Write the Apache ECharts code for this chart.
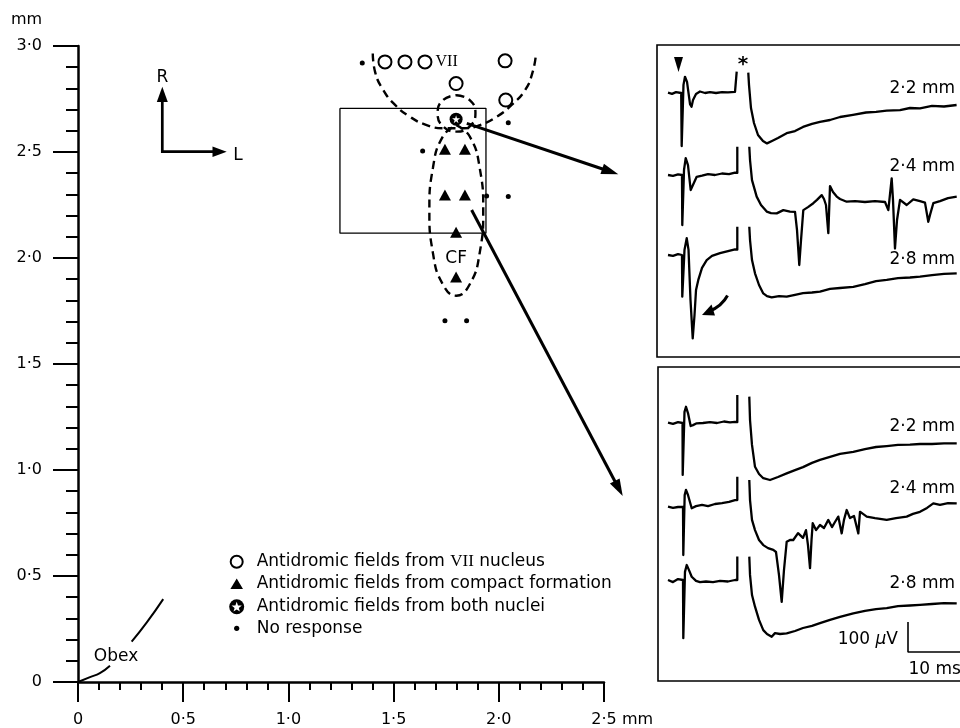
<!DOCTYPE html>
<html><head><meta charset="utf-8">
<script src="https://cdn.jsdelivr.net/npm/echarts@6/dist/echarts.min.js"></script>
<style>html,body{margin:0;padding:0;background:#fff}#c{width:960px;height:728px}</style>
</head><body><div id="c"></div>
<script>
// ---------- main map (mm) ----------
const xTicks = [0, 0.5, 1.0, 1.5, 2.0, 2.5];
const yTicks = [0, 0.5, 1.0, 1.5, 2.0, 2.5, 3.0];
const viiFields = [[1.459,2.925],[1.554,2.925],[1.649,2.925],[2.030,2.930],[1.797,2.823],[2.033,2.745]];
const cfFields = [[1.744,2.513],[1.839,2.513],[1.744,2.297],[1.839,2.297],[1.797,2.122],[1.797,1.910]];
const bothFields = [[1.797,2.655]];
const noResponse = [[1.351,2.920],[2.045,2.638],[1.638,2.505],[1.942,2.293],[2.045,2.290],[1.744,1.704],[1.847,1.704]];
const viiBoundary = [[1.401,2.965],[1.412,2.878],[1.451,2.792],[1.507,2.722],[1.578,2.666],[1.657,2.627],[1.736,2.612],[1.831,2.612],[1.911,2.627],[1.990,2.666],[2.061,2.722],[2.125,2.792],[2.161,2.878],[2.177,2.965]];
const bothBoundary = [[1.799,2.768],[1.862,2.745],[1.889,2.684],[1.862,2.621],[1.799,2.596],[1.735,2.621],[1.709,2.684],[1.735,2.745],[1.799,2.768]];
const cfBoundary = [[1.798,2.627],[1.862,2.573],[1.909,2.426],[1.926,2.225],[1.909,2.023],[1.862,1.876],[1.798,1.822],[1.734,1.876],[1.687,2.023],[1.670,2.225],[1.687,2.426],[1.734,2.573],[1.798,2.627]];
const sampledArea = [[1.245,2.706],[1.939,2.706],[1.939,2.117],[1.245,2.117],[1.245,2.706]];
const obexA = [[0,0],[0.057,0.023],[0.104,0.042],[0.152,0.077]];
const obexB = [[0.255,0.190],[0.327,0.281],[0.405,0.391]];
const labelVII = [1.752,2.925];
const labelCF = [1.797,1.996];
const depthLabels = ['2·2 mm','2·4 mm','2·8 mm'];

// ---------- recordings: [ms, µV] ----------
const topPre22 = [[0,0],[0.67,-4],[1.33,2],[2.2,-1],[2.28,-178],[2.58,26],[2.83,53],[3.17,36],[3.67,-38],[3.92,-47],[4.17,-24],[4.67,-4],[5.33,4],[6.17,-1],[7,2],[8,-1],[9,2],[10,1],[11.17,3],[11.45,2],[11.45,70]];
const topPost22 = [[13.38,67],[13.5,26],[13.83,-51],[14.33,-101],[15,-141],[15.83,-161],[16.5,-169],[17.33,-161],[18.33,-151],[19.78,-135],[21.17,-128],[22.5,-114],[24,-104],[25.33,-97],[27,-91],[28.67,-81],[30.83,-74],[33,-66],[34.67,-64],[36.45,-60],[38.67,-58],[40.33,-51],[42,-52],[44,-44],[46,-46],[48.1,-41]];
const topPre24 = [[0,0],[0.83,-3],[1.67,2],[2.33,0],[2.38,-167],[2.67,17],[2.95,56],[3.33,33],[3.78,-50],[4.08,-47],[4.78,-6],[5.67,-2],[6.67,3],[7.83,0],[9,5],[10.17,3],[11.17,8],[11.55,7],[11.55,94]];
const topPost24 = [[13.55,94],[13.67,50],[14,-17],[14.78,-72],[15.5,-100],[16.45,-122],[17.17,-127],[18.12,-128],[19.22,-117],[20.33,-122],[21.17,-123],[21.5,-183],[21.88,-300],[22.17,-217],[22.55,-117],[23.33,-107],[24.22,-94],[24.83,-83],[25.62,-67],[26,-80],[26.33,-100],[26.72,-194],[26.92,-83],[27,-37],[27.5,-57],[28.12,-72],[28.67,-80],[29.78,-89],[31.17,-87],[32.83,-90],[34.5,-87],[36.17,-90],[36.72,-117],[37.28,-11],[37.5,-83],[37.83,-245],[38.17,-150],[38.67,-83],[39.78,-100],[40.88,-81],[42,-87],[42.83,-92],[43.38,-156],[43.67,-133],[44.22,-94],[45.33,-87],[46.67,-77],[48.12,-72]];
const topPre28 = [[0,0],[0.83,-3],[1.67,3],[2.33,0],[2.38,-139],[2.75,17],[3.12,56],[3.42,17],[3.75,-150],[4.12,-278],[4.42,-200],[4.67,-117],[5.05,-83],[5.67,-43],[6.45,-17],[7.33,-3],[8.67,6],[10,13],[11.17,19],[11.55,18],[11.55,94]];
const topPost28 = [[13.55,94],[13.67,50],[14,-17],[14.5,-61],[15.17,-100],[15.88,-128],[16.5,-137],[17.28,-141],[18.5,-137],[19.78,-139],[21.17,-133],[22.5,-127],[24,-125],[25.33,-122],[27,-113],[28.67,-110],[30.88,-106],[32.83,-97],[34.67,-87],[36.45,-83],[38.33,-77],[40.33,-75],[42,-72],[44,-67],[46,-63],[48.12,-61]];
const botPre22 = [[0,0],[0.83,-4],[1.67,2],[2.42,-1],[2.45,-174],[2.75,36],[3,53],[3.33,32],[3.78,-11],[4.17,-8],[4.78,-2],[5.83,-1],[7,2],[8.17,-1],[9.33,4],[10.33,1],[11.17,3],[11.55,2],[11.55,92]];
const botPost22 = [[13.55,87],[13.67,9],[14,-74],[14.5,-147],[15.17,-171],[15.88,-185],[17,-191],[18.33,-181],[19.78,-169],[21.17,-158],[22.5,-148],[24,-134],[25.33,-124],[27,-114],[28.67,-104],[30.88,-97],[32.83,-88],[34.67,-81],[36.45,-78],[38.33,-74],[40.33,-73],[42,-71],[44,-71],[46,-69],[48.12,-69]];
const botPre24 = [[0,0],[0.83,-4],[1.67,-1],[2.5,-1],[2.55,-161],[2.78,39],[3,56],[3.33,39],[3.95,-5],[4.67,2],[5.67,6],[6.67,2],[7.83,9],[9,12],[10.17,16],[11.17,22],[11.55,22],[11.55,100]];
const botPost24 = [[13.55,89],[13.67,22],[14,-44],[14.5,-78],[15.17,-111],[15.88,-128],[16.67,-138],[17.55,-144],[18,-151],[18.5,-228],[18.95,-317],[19.33,-211],[19.78,-117],[20.33,-111],[20.88,-111],[21.67,-88],[22.5,-104],[23,-78],[23.33,-128],[23.67,-205],[23.92,-111],[24.12,-55],[24.67,-78],[25.33,-61],[26,-71],[26.72,-44],[27.33,-68],[27.83,-51],[28.38,-33],[28.95,-89],[29.33,-44],[29.78,-11],[30.33,-38],[31,-31],[31.72,-89],[32,-17],[32.5,-24],[33.12,-33],[34.5,-38],[36.45,-44],[38,-38],[39.78,-33],[40.83,-24],[42,-17],[43.17,-4],[44.22,11],[45.33,6],[46.67,12],[48.12,11]];
const botPre28 = [[0,0],[0.83,-7],[1.67,3],[2.5,0],[2.55,-194],[2.83,27],[3.12,50],[3.5,33],[3.95,11],[4.67,-3],[5.33,-7],[6.33,-5],[7.5,-7],[8.67,-3],[10,-5],[11.17,0],[11.55,0],[11.55,78]];
const botPost28 = [[13.55,78],[13.67,17],[14,-50],[14.5,-89],[15.17,-133],[15.88,-167],[16.5,-180],[17.28,-189],[17.83,-177],[18.67,-180],[19.78,-178],[21.17,-170],[22.5,-160],[24,-153],[25.33,-144],[27,-133],[28.67,-123],[30.88,-111],[32.83,-103],[34.67,-97],[36.45,-94],[38.33,-87],[40.33,-85],[42,-83],[44,-80],[46,-77],[48.12,-78]];
const scaleBar = [[40,-140],[40,-240],[50,-240]]; // 100 µV, 10 ms

// ---------- layout ----------
const FONT = 'DejaVu Sans';
const traceRows = [92.7, 175, 255, 422.7, 506.7, 580]; // baseline pixel rows
const traceSets = [[topPre22,topPost22],[topPre24,topPost24],[topPre28,topPost28],[botPre22,botPost22],[botPre24,botPost24],[botPre28,botPost28]];

const fmt = v => (v === 0 ? '0' : v.toFixed(1).replace('.', '·'));

const grids = [{left:78, top:46, width:526, height:636, containLabel:false, outerBoundsMode:'none'}];
const xAxes = [{
  type:'value', gridIndex:0, min:0, max:2.5, interval:0.5,
  axisLine:{show:true, onZero:false, lineStyle:{color:'#000', width:2.5}},
  axisTick:{show:true, inside:false, length:20, lineStyle:{color:'#000', width:2}},
  minorTick:{show:true, splitNumber:5, length:8, lineStyle:{color:'#000', width:2}},
  splitLine:{show:false}, minorSplitLine:{show:false},
  axisLabel:{margin:30, fontSize:16, fontFamily:FONT, color:'#000', formatter:fmt, showMinLabel:true, showMaxLabel:true}
}];
const yAxes = [{
  type:'value', gridIndex:0, min:0, max:3.0, interval:0.5,
  axisLine:{show:true, onZero:false, lineStyle:{color:'#000', width:2.5}},
  axisTick:{show:true, inside:false, length:25, lineStyle:{color:'#000', width:2}},
  minorTick:{show:true, splitNumber:5, length:12, lineStyle:{color:'#000', width:2}},
  splitLine:{show:false}, minorSplitLine:{show:false},
  axisLabel:{margin:36, fontSize:16, fontFamily:FONT, color:'#000', formatter:fmt, showMinLabel:true, showMaxLabel:true}
}];
const series = [];
function dashed(data){ series.push({type:'line', xAxisIndex:0, yAxisIndex:0, data, smooth:0.5, symbol:'none', silent:true, lineStyle:{color:'#000', width:2.4, type:[8,5]}}); }
dashed(viiBoundary); dashed(bothBoundary); dashed(cfBoundary);
series.push({type:'line', xAxisIndex:0, yAxisIndex:0, data:sampledArea, symbol:'none', silent:true, lineStyle:{color:'#000', width:1.3}});
[obexA, obexB].forEach(d => series.push({type:'line', xAxisIndex:0, yAxisIndex:0, data:d, smooth:0.5, symbol:'none', silent:true, clip:false, lineStyle:{color:'#000', width:2}}));
series.push({name:'VII', type:'scatter', xAxisIndex:0, yAxisIndex:0, data:viiFields, symbol:'circle', symbolSize:13, itemStyle:{color:'#fff', borderColor:'#000', borderWidth:2, opacity:1}});
series.push({name:'CF', type:'scatter', xAxisIndex:0, yAxisIndex:0, data:cfFields, symbol:'triangle', symbolSize:[12,11], itemStyle:{color:'#000', opacity:1}});
series.push({name:'Both', type:'scatter', xAxisIndex:0, yAxisIndex:0, data:bothFields, symbol:'circle', symbolSize:13, itemStyle:{color:'#000', opacity:1}});
series.push({name:'Both star', type:'scatter', xAxisIndex:0, yAxisIndex:0, data:bothFields, silent:true, symbol:'path://M50,0 L61,35 L98,35 L68,57 L79,91 L50,70 L21,91 L32,57 L2,35 L39,35 Z', symbolSize:8, itemStyle:{color:'#fff', opacity:1}, z:3});
series.push({name:'None', type:'scatter', xAxisIndex:0, yAxisIndex:0, data:noResponse, symbol:'circle', symbolSize:5, itemStyle:{color:'#000', opacity:1}});

traceRows.forEach((base, i) => {
  const gi = i + 1;
  grids.push({left:668, width:300, top:base - 60, height:180, containLabel:false, outerBoundsMode:'none'});
  xAxes.push({type:'value', gridIndex:gi, min:0, max:50, show:false});
  yAxes.push({type:'value', gridIndex:gi, min:-400, max:200, show:false});
  traceSets[i].forEach(seg => series.push({type:'line', xAxisIndex:gi, yAxisIndex:gi, data:seg, symbol:'none', silent:true, clip:false, lineStyle:{color:'#000', width:2.3, join:'round'}}));
});
series.push({type:'line', xAxisIndex:6, yAxisIndex:6, data:scaleBar, symbol:'none', silent:true, clip:false, lineStyle:{color:'#000', width:1.6}});

const chart = echarts.init(document.getElementById('c'), null, {renderer:'canvas'});
chart.setOption({animation:false, backgroundColor:'#fff', grid:grids, xAxis:xAxes, yAxis:yAxes, series});

// ---------- annotations ----------
const G = [];
const P = d => chart.convertToPixel({gridIndex:0}, d);
function txt(x, y, text, size, align, valign, extra){
  G.push({type:'text', z:10, x, y, style:Object.assign({text, fill:'#000', fontSize:size, fontFamily:FONT, align, verticalAlign:valign, textAlign:align, textVerticalAlign:valign}, extra || {})});
}
function line(x1,y1,x2,y2,w){ G.push({type:'line', z:10, shape:{x1,y1,x2,y2}, style:{stroke:'#000', lineWidth:w}}); }
function poly(points, fill){ G.push({type:'polygon', z:10, shape:{points}, style:{fill:fill || '#000'}}); }
function arrow(x1,y1,x2,y2,w,hl,hw){
  const dx=x2-x1, dy=y2-y1, L=Math.hypot(dx,dy), ux=dx/L, uy=dy/L;
  const bx=x2-ux*hl, by=y2-uy*hl;
  line(x1,y1,bx+ux*2,by+uy*2,w);
  poly([[x2,y2],[bx-uy*hw,by+ux*hw],[bx+uy*hw,by-ux*hw]]);
}
function starPts(cx,cy,R,r){ const p=[]; for(let k=0;k<10;k++){ const a=-Math.PI/2+k*Math.PI/5, rr=k%2?r:R; p.push([cx+rr*Math.cos(a), cy+rr*Math.sin(a)]); } return p; }

// axis units
txt(26.5, 20, 'mm', 16, 'center', 'middle');
txt(622, 720, 'mm', 16, 'left', 'middle');

// point labels
const pv = P(labelVII); txt(pv[0], pv[1], 'VII', 16, 'center', 'middle', {fontFamily:'Liberation Serif'});
const pc = P(labelCF); txt(pc[0], pc[1], 'CF', 17, 'center', 'middle');
txt(116, 656.7, 'Obex', 17, 'center', 'middle');

// orientation compass
G.push({type:'polyline', z:10, shape:{points:[[162.3,100],[162.3,151.7],[214,151.7]]}, style:{stroke:'#000', lineWidth:2.7, fill:'none', lineJoin:'miter'}});
poly([[162.3,86.7],[156.8,102],[167.8,102]]);
poly([[226.7,151.7],[212.5,146.5],[212.5,156.9]]);
txt(162.5, 77.5, 'R', 17, 'center', 'middle');
txt(238, 155.3, 'L', 17, 'center', 'middle');

// legend
G.push({type:'circle', z:10, shape:{cx:236.7, cy:561.7, r:6}, style:{fill:'#fff', stroke:'#000', lineWidth:2}});
poly([[236.7,578.5],[243,589],[230.4,589]]);
G.push({type:'circle', z:10, shape:{cx:236.7, cy:606.7, r:7.5}, style:{fill:'#000'}});
poly(starPts(236.7, 607.2, 5.4, 2.2), '#fff');
G.push({type:'circle', z:10, shape:{cx:236.7, cy:628.3, r:2.6}, style:{fill:'#000'}});
txt(256.7, 561.7, '{a|Antidromic fields from }{b|VII}{a| nucleus}', 17, 'left', 'middle', {rich:{a:{fontSize:17, fontFamily:FONT}, b:{fontSize:17, fontFamily:'Liberation Serif'}}});
txt(256.7, 584, 'Antidromic fields from compact formation', 17, 'left', 'middle');
txt(256.7, 606.7, 'Antidromic fields from both nuclei', 17, 'left', 'middle');
txt(256.7, 628.3, 'No response', 17, 'left', 'middle');

// inset frames
G.push({type:'rect', z:10, shape:{x:657, y:45, width:330, height:312}, style:{stroke:'#000', fill:'none', lineWidth:1.6}});
G.push({type:'rect', z:10, shape:{x:658, y:367, width:330, height:314}, style:{stroke:'#000', fill:'none', lineWidth:1.6}});

// pointer arrows from the map to the recordings
const ps = P(bothFields[0]);
arrow(ps[0]+10.7, ps[1]+4.3, 618.3, 174.3, 3, 17, 5.5);
const pt = P(cfFields[3]);
arrow(pt[0]+6.7, pt[1]+15, 622.7, 496, 3, 17, 5.5);

// inset marks
poly([[674,57],[683,57],[678.5,72]]);
txt(743, 55, '*', 20, 'center', 'top', {fontWeight:'bold'});
G.push({type:'bezierCurve', z:10, shape:{x1:727.5, y1:295.5, x2:709, y2:311.5, cpx1:722, cpy1:306}, style:{stroke:'#000', lineWidth:3, fill:'none'}});
poly([[702,315],[711.5,304.5],[715,315.5]]);

// depth labels
[88.3, 166.7, 260, 426.7, 488.3, 583.3].forEach((y, i) => txt(955, y, depthLabels[i % 3], 17, 'right', 'middle'));

// scale bar labels
txt(898, 640, '{a|100 }{i|μ}{a|V}', 17, 'right', 'middle', {rich:{a:{fontSize:17, fontFamily:FONT}, i:{fontSize:17, fontFamily:FONT, fontStyle:'italic'}}});
txt(908.5, 670, '10 ms', 17, 'left', 'middle');

chart.setOption({graphic:{elements:G}});
</script></body></html>
